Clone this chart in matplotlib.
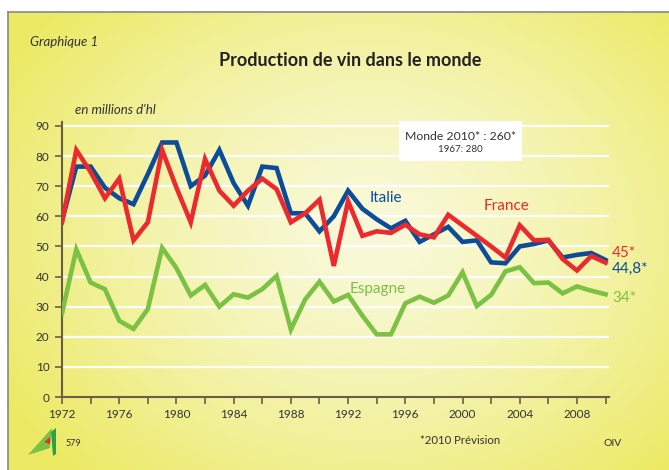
import numpy as np
import matplotlib
matplotlib.use("Agg")
import matplotlib.pyplot as plt
from matplotlib.patches import Polygon, Rectangle
from matplotlib.lines import Line2D

plt.rcParams['font.family'] = ['Lato', 'DejaVu Sans']

# Données (millions d'hl)
years = list(range(1972, 2011))
italie = [58.5, 76.5, 76.5, 69.5, 66, 64, 74, 84.5, 84.5, 70, 73.5, 82, 71, 63.5, 76.5, 76, 61, 61, 55, 60,
          68.5, 62.5, 59, 56, 58.5, 51.5, 54, 56.5, 51.5, 52, 44.7, 44.4, 50, 50.8, 52, 46.3, 47.2, 47.8, 45.5]
france = [58, 82, 74.7, 66, 72.5, 52, 58, 82, 69.5, 58, 79, 68.5, 63.5, 68.5, 72.5, 69, 58, 61, 65.5, 43.5,
          65, 53.5, 55, 54.5, 57.2, 54, 53, 60.5, 57, 53.5, 50, 46.3, 57, 52, 52.2, 45.8, 42, 46.8, 44.6]
espagne = [27.8, 49, 38, 35.8, 25.3, 22.6, 29.2, 49.5, 42.8, 33.7, 37.2, 30, 34.1, 33, 35.8, 40.2, 22.4, 32.4,
           38.3, 31.7, 33.9, 27, 20.8, 20.8, 31.1, 33.3, 31.3, 33.7, 41.4, 30.2, 33.9, 41.7, 43.1, 37.8, 38,
           34.4, 36.7, 35.3, 34.1]

BLUE = '#0b4d99'
RED = '#ec2a2d'
GREEN = '#7bc143'

W, H = 669, 470
fig = plt.figure(figsize=(W / 100, H / 100), dpi=100)
fig.patch.set_facecolor('white')

# fond jaune en dégradé
bg = fig.add_axes([8 / W, 0, (W - 8) / W, (H - 12) / H])
bg.set_axis_off()
yy, xx = np.mgrid[0:458, 0:661]
d = np.sqrt(((xx - 360) / 420.0) ** 2 + ((yy - 220) / 330.0) ** 2)
d = np.clip(d, 0, 1)
c0 = np.array([249, 249, 218]) / 255.0
c1 = np.array([236, 234, 100]) / 255.0
img = c0[None, None, :] * (1 - d[..., None] ** 1.4) + c1[None, None, :] * (d[..., None] ** 1.4)
bg.imshow(img, aspect='auto', extent=[0, 1, 0, 1], origin='upper')
bg.set_xlim(0, 1)
bg.set_ylim(0, 1)
fig.add_artist(Line2D([8 / W, 1], [1 - 12 / H, 1 - 12 / H], color='#888888', lw=1.2))
fig.add_artist(Line2D([8 / W, 8 / W], [0, 1 - 12 / H], color='#888888', lw=1.2))

# axes principaux
ax = fig.add_axes([62 / W, (H - 397) / H, (609 - 62) / W, (397 - 122) / H])
ax.patch.set_alpha(0)
ax.set_xlim(1972, 2010.24)
ax.set_ylim(0, 91.3)

for v in range(10, 100, 10):
    ax.axhline(v, color='white', lw=1.6, zorder=1)

ax.plot(years, italie, color=BLUE, lw=3.3, zorder=3, solid_joinstyle='miter')
ax.plot(years, france, color=RED, lw=3.3, zorder=4, solid_joinstyle='miter')
ax.plot(years, espagne, color=GREEN, lw=3.3, zorder=3, solid_joinstyle='miter')

for s in ['top', 'right']:
    ax.spines[s].set_visible(False)
for s in ['left', 'bottom']:
    ax.spines[s].set_color('#6b5e45')
    ax.spines[s].set_linewidth(1.5)

ax.set_yticks(range(0, 100, 10))
ax.set_xticks(range(1972, 2011, 4))
ax.set_xticks(range(1972, 2011, 2), minor=True)
ax.tick_params(axis='both', colors='#6b5e45', labelcolor='#333333', labelsize=8.5, width=1.2, length=5)
ax.tick_params(axis='x', which='minor', colors='#6b5e45', width=1.2, length=5)
ax.tick_params(axis='y', pad=4)

# étiquettes des séries
ax.text(1993.5, 64.8, 'Italie', color=BLUE, fontsize=11)
ax.text(2001.5, 62.1, 'France', color=RED, fontsize=11)
ax.text(1992.1, 34.5, 'Espagne', color=GREEN, fontsize=11)
ax.text(2010.45, 46.5, '45*', color=RED, fontsize=11, clip_on=False)
ax.text(2010.45, 41.2, '44,8*', color=BLUE, fontsize=11, clip_on=False)
ax.text(2010.45, 31.5, '34*', color=GREEN, fontsize=11, clip_on=False)

# encadré monde
fig.add_artist(Rectangle((399 / W, 1 - 161 / H), 123 / W, 40 / H, facecolor='white',
                         edgecolor='none', zorder=5))
fig.text(460.5 / W, 1 - 136 / H, 'Monde 2010* : 260*', ha='center', va='center', fontsize=8.8,
         color='#333333', zorder=6)
fig.text(460.5 / W, 1 - 149 / H, '1967: 280', ha='center', va='center', fontsize=7,
         color='#333333', zorder=6)

# textes
fig.text(30 / W, 1 - 42 / H, 'Graphique 1', style='italic', fontsize=9.5, color='#333333', va='center')
fig.text(350 / W, 1 - 61 / H, 'Production de vin dans le monde', fontweight='bold', fontsize=13,
         color='#222222', ha='center', va='center')
fig.text(75 / W, 1 - 110 / H, "en millions d'hl", style='italic', fontsize=9.5, color='#333333',
         va='center')
fig.text(66 / W, 1 - 443 / H, '579', fontsize=6.5, color='#333333', va='center')
fig.text(460 / W, 1 - 441 / H, '*2010 Prévision', fontsize=8.2, color='#333333', ha='center',
         va='center')
fig.text(604 / W, 1 - 444 / H, 'OIV', fontsize=7.5, color='#333333', va='center')

# petit logo
fig.add_artist(Polygon([(28 / W, 1 - 455 / H), (52 / W, 1 - 428 / H), (50 / W, 1 - 448 / H)],
                       closed=True, facecolor='#7bc143', edgecolor='none'))
fig.add_artist(Polygon([(51 / W, 1 - 432 / H), (56 / W, 1 - 428 / H), (56 / W, 1 - 454 / H),
                        (53 / W, 1 - 456 / H)], closed=True, facecolor='#2e9e4a', edgecolor='none'))
fig.add_artist(Polygon([(44 / W, 1 - 442 / H), (50 / W, 1 - 437 / H), (50 / W, 1 - 444 / H)],
                       closed=True, facecolor='#e4322b', edgecolor='none'))

fig.savefig('out.png', dpi=100)
